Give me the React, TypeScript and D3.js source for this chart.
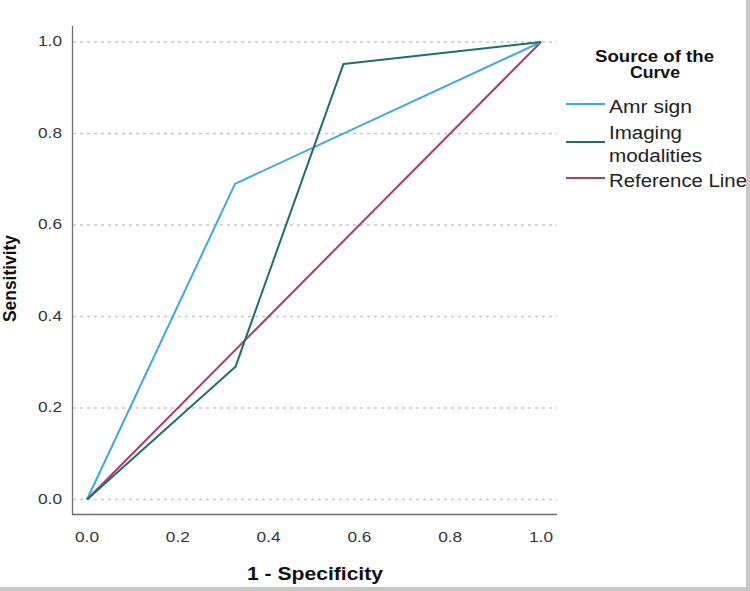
import React from "react";
import * as d3 from "d3";

const seriesNames = ["Amr sign", "Imaging modalities", "Reference Line"];
const amrX = [0, 0.326, 1];
const amrY = [0, 0.69, 1];
const imgX = [0, 0.327, 0.565, 1];
const imgY = [0, 0.29, 0.952, 1];
const refX = [0, 1];
const refY = [0, 1];
const ticks = [0, 0.2, 0.4, 0.6, 0.8, 1.0];
const colors = ["#3ea9e0", "#1f6e6a", "#a83c6a"];

export default function App() {
  const W = 750, H = 591;
  const x = d3.scaleLinear().domain([0, 1]).range([87, 541]);
  const y = d3.scaleLinear().domain([0, 1]).range([499.5, 42]);
  const line = d3.line<[number, number]>().x(d => x(d[0])).y(d => y(d[1]));
  const series = [
    { xs: amrX, ys: amrY },
    { xs: imgX, ys: imgY },
    { xs: refX, ys: refY },
  ];
  const font = "Arial, 'Liberation Sans', sans-serif";
  return (
    <svg width={W} height={H} style={{ position: "absolute", left: 0, top: 0, background: "#fff" }}>
      <rect x={0} y={0} width={W} height={H} fill="#fff" />
      {ticks.map(t => (
        <line key={"g" + t} x1={73} x2={557} y1={y(t)} y2={y(t)} stroke="#c8c8c8" strokeWidth={1.5} strokeDasharray="3,4" />
      ))}
      <line x1={72.5} x2={72.5} y1={26} y2={514.5} stroke="#6e6e6e" strokeWidth={1.3} />
      <line x1={72} x2={557} y1={514.5} y2={514.5} stroke="#6e6e6e" strokeWidth={1.3} />
      {ticks.map(t => (
        <text key={"yl" + t} x={62} y={y(t) + 4} textAnchor="end" fontSize={15} fontFamily={font} fill="#333" textLength={24} lengthAdjust="spacingAndGlyphs">
          {t.toFixed(1)}
        </text>
      ))}
      {ticks.map(t => (
        <text key={"xl" + t} x={x(t) - 12} y={542} fontSize={15} fontFamily={font} fill="#333" textLength={24} lengthAdjust="spacingAndGlyphs">
          {t.toFixed(1)}
        </text>
      ))}
      <text x={247} y={580} fontSize={19} fontWeight="bold" fontFamily={font} fill="#111" textLength={136} lengthAdjust="spacingAndGlyphs">
        1 - Specificity
      </text>
      <text transform="translate(16,322) rotate(-90)" fontSize={18} fontWeight="bold" fontFamily={font} fill="#111" textLength={87} lengthAdjust="spacingAndGlyphs">
        Sensitivity
      </text>
      {[2, 0, 1].map(i => (
        <path
          key={"s" + i}
          d={line(series[i].xs.map((v, k) => [v, series[i].ys[k]] as [number, number])) || ""}
          fill="none"
          stroke={colors[i]}
          strokeWidth={2}
          strokeLinejoin="round"
        />
      ))}
      <text x={595} y={62} fontSize={16} fontWeight="bold" fontFamily={font} fill="#111" textLength={119} lengthAdjust="spacingAndGlyphs">Source of the</text>
      <text x={630} y={78} fontSize={16} fontWeight="bold" fontFamily={font} fill="#111" textLength={50} lengthAdjust="spacingAndGlyphs">Curve</text>
      <line x1={566} x2={605} y1={104} y2={104} stroke={colors[0]} strokeWidth={2} />
      <text x={609} y={113} fontSize={18} fontFamily={font} fill="#222" textLength={83} lengthAdjust="spacingAndGlyphs">{seriesNames[0]}</text>
      <line x1={566} x2={605} y1={142} y2={142} stroke={colors[1]} strokeWidth={2} />
      <text x={609} y={139} fontSize={18} fontFamily={font} fill="#222" textLength={73} lengthAdjust="spacingAndGlyphs">Imaging</text>
      <text x={609} y={162} fontSize={18} fontFamily={font} fill="#222" textLength={93} lengthAdjust="spacingAndGlyphs">modalities</text>
      <line x1={566} x2={605} y1={178} y2={178} stroke={colors[2]} strokeWidth={2} />
      <text x={609} y={187} fontSize={18} fontFamily={font} fill="#222" textLength={138} lengthAdjust="spacingAndGlyphs">{seriesNames[2]}</text>
      <rect x={746} y={0} width={4} height={H} fill="#c8c8c8" />
      <rect x={0} y={587} width={W} height={4} fill="#c8c8c8" />
    </svg>
  );
}
